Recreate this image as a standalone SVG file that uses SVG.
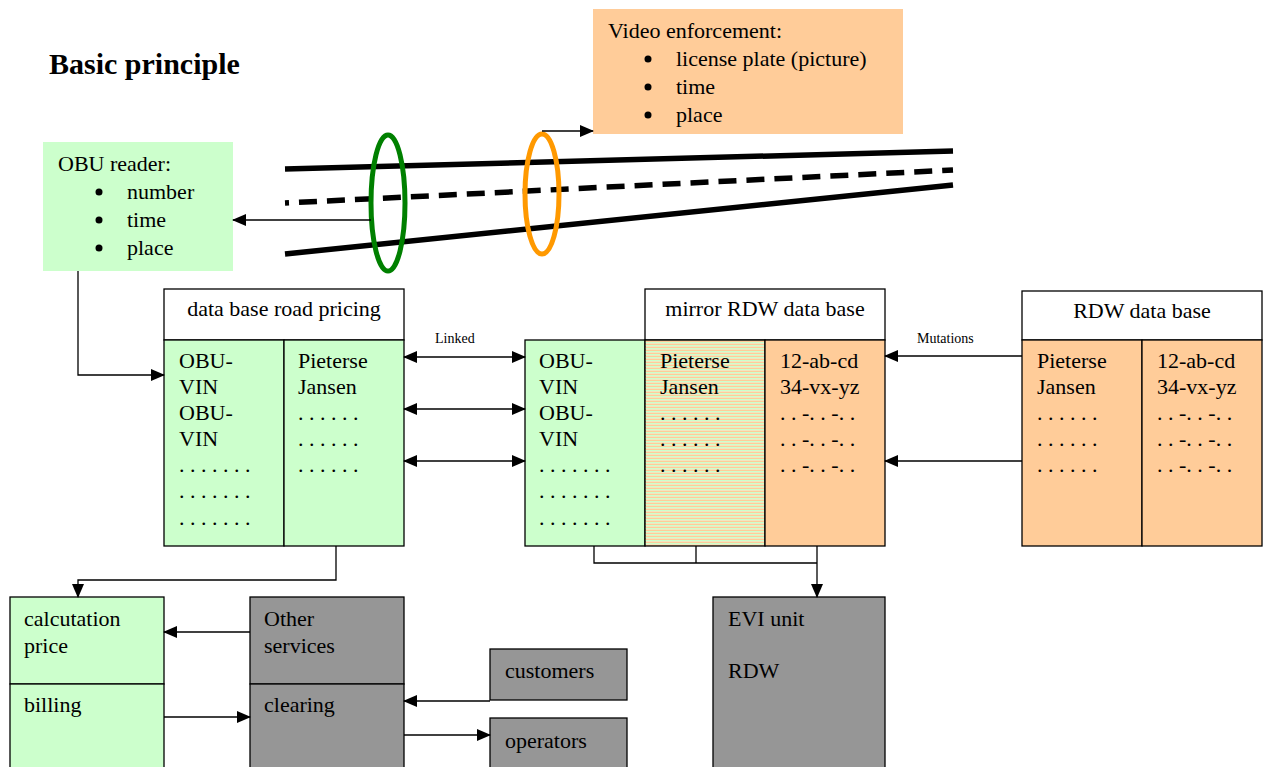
<svg xmlns="http://www.w3.org/2000/svg" width="1265" height="767" viewBox="0 0 1265 767">
<style>
text{font-family:"Liberation Serif","Times New Roman",serif;font-size:22px;fill:#000}
.sm{font-size:14px}
.ttl{font-size:30px;font-weight:bold}
.bx{stroke:#000;stroke-width:1.3}
.g{fill:#ccffcc}
.o{fill:#ffcc99}
.w{fill:#fff}
.gr{fill:#969696}
.ln{stroke:#000;stroke-width:1.3;fill:none}
.road{stroke:#000;stroke-width:5.5;fill:none}
</style>
<defs>
<marker id="ah" markerUnits="userSpaceOnUse" markerWidth="14" markerHeight="12" refX="13" refY="6" orient="auto">
<path d="M0,0 L14,6 L0,12 Z" fill="#000"/>
</marker>
<marker id="as" markerUnits="userSpaceOnUse" markerWidth="14" markerHeight="12" refX="1" refY="6" orient="auto">
<path d="M14,0 L0,6 L14,12 Z" fill="#000"/>
</marker>
<pattern id="stripe" width="4" height="3" patternUnits="userSpaceOnUse">
<rect width="4" height="1.5" fill="#ccffcc"/>
<rect y="1.5" width="4" height="1.5" fill="#ffcc99"/>
</pattern>
</defs>

<text class="ttl" x="49" y="74">Basic principle</text>

<g id="road">
<line class="road" x1="285" y1="169" x2="953" y2="151"/>
<line class="road" x1="285" y1="203" x2="953" y2="170" stroke-dasharray="18 10" stroke-dashoffset="14"/>
<line class="road" x1="285" y1="254" x2="953" y2="185"/>
<ellipse cx="388" cy="203" rx="17" ry="68" fill="none" stroke="#008000" stroke-width="5"/>
<ellipse cx="542" cy="194" rx="17" ry="60" fill="none" stroke="#ff9900" stroke-width="5"/>
</g>

<g id="obu-reader">
<rect class="g" x="43" y="142" width="190" height="129"/>
<text x="58" y="171">OBU reader:</text>
<circle cx="99" cy="192" r="3.5"/><text x="127" y="199">number</text>
<circle cx="99" cy="220" r="3.5"/><text x="127" y="227">time</text>
<circle cx="99" cy="248" r="3.5"/><text x="127" y="255">place</text>
</g>

<g id="video">
<rect class="o" x="593" y="9" width="310" height="125"/>
<text x="608" y="38">Video enforcement:</text>
<circle cx="648" cy="59" r="3.5"/><text x="676" y="66">license plate (picture)</text>
<circle cx="648" cy="87" r="3.5"/><text x="676" y="94">time</text>
<circle cx="648" cy="115" r="3.5"/><text x="676" y="122">place</text>
</g>

<g id="db-road-pricing">
<rect class="bx w" x="164" y="289" width="240" height="51"/>
<text x="284" y="316" text-anchor="middle">data base road pricing</text>
<rect class="bx g" x="164" y="340" width="120" height="206"/>
<rect class="bx g" x="284" y="340" width="120" height="206"/>
<text x="179" y="368">OBU-</text>
<text x="179" y="394">VIN</text>
<text x="179" y="420">OBU-</text>
<text x="179" y="446">VIN</text>
<text x="179" y="472">. . . . . . .</text>
<text x="179" y="498">. . . . . . .</text>
<text x="179" y="525">. . . . . . .</text>
<text x="298" y="368">Pieterse</text>
<text x="298" y="394">Jansen</text>
<text x="298" y="420">. . . . . .</text>
<text x="298" y="446">. . . . . .</text>
<text x="298" y="472">. . . . . .</text>
</g>

<g id="mirror-rdw">
<rect class="bx w" x="645" y="289" width="240" height="51"/>
<text x="765" y="316" text-anchor="middle">mirror RDW data base</text>
<rect class="bx g" x="525" y="340" width="120" height="206"/>
<rect class="bx" x="645" y="340" width="120" height="206" fill="url(#stripe)"/>
<rect class="bx o" x="765" y="340" width="120" height="206"/>
<text x="539" y="368">OBU-</text>
<text x="539" y="394">VIN</text>
<text x="539" y="420">OBU-</text>
<text x="539" y="446">VIN</text>
<text x="539" y="472">. . . . . . .</text>
<text x="539" y="498">. . . . . . .</text>
<text x="539" y="525">. . . . . . .</text>
<text x="660" y="368">Pieterse</text>
<text x="660" y="394">Jansen</text>
<text x="660" y="420">. . . . . .</text>
<text x="660" y="446">. . . . . .</text>
<text x="660" y="472">. . . . . .</text>
<text x="780" y="368">12-ab-cd</text>
<text x="780" y="394">34-vx-yz</text>
<text x="780" y="420">. . -. . -. .</text>
<text x="780" y="446">. . -. . -. .</text>
<text x="780" y="472">. . -. . -. .</text>
</g>

<g id="rdw-db">
<rect class="bx w" x="1022" y="291" width="240" height="49"/>
<text x="1142" y="318" text-anchor="middle">RDW data base</text>
<rect class="bx o" x="1022" y="340" width="120" height="206"/>
<rect class="bx o" x="1142" y="340" width="120" height="206"/>
<text x="1037" y="368">Pieterse</text>
<text x="1037" y="394">Jansen</text>
<text x="1037" y="420">. . . . . .</text>
<text x="1037" y="446">. . . . . .</text>
<text x="1037" y="472">. . . . . .</text>
<text x="1157" y="368">12-ab-cd</text>
<text x="1157" y="394">34-vx-yz</text>
<text x="1157" y="420">. . -. . -. .</text>
<text x="1157" y="446">. . -. . -. .</text>
<text x="1157" y="472">. . -. . -. .</text>
</g>

<g id="calc-billing">
<rect class="bx g" x="10" y="597" width="154" height="87"/>
<rect class="bx g" x="10" y="684" width="154" height="90"/>
<text x="24" y="626">calcutation</text>
<text x="24" y="653">price</text>
<text x="24" y="712">billing</text>
</g>

<g id="services-clearing">
<rect class="bx gr" x="250" y="597" width="154" height="87"/>
<rect class="bx gr" x="250" y="684" width="154" height="90"/>
<text x="264" y="626">Other</text>
<text x="264" y="653">services</text>
<text x="264" y="712">clearing</text>
</g>

<g id="customers">
<rect class="bx gr" x="490" y="649" width="137" height="51"/>
<text x="505" y="678">customers</text>
</g>

<g id="operators">
<rect class="bx gr" x="490" y="718" width="137" height="56"/>
<text x="505" y="748">operators</text>
</g>

<g id="evi">
<rect class="bx gr" x="713" y="597" width="172" height="177"/>
<text x="728" y="626">EVI unit</text>
<text x="728" y="678">RDW</text>
</g>

<g id="connectors">
<line class="ln" x1="371" y1="220" x2="233" y2="220" marker-end="url(#ah)"/>
<line class="ln" x1="542" y1="131" x2="593" y2="131" marker-end="url(#ah)"/>
<polyline class="ln" points="78,271 78,375 164,375" marker-end="url(#ah)"/>
<line class="ln" x1="404" y1="357" x2="525" y2="357" marker-start="url(#as)" marker-end="url(#ah)"/>
<line class="ln" x1="404" y1="409" x2="525" y2="409" marker-start="url(#as)" marker-end="url(#ah)"/>
<line class="ln" x1="404" y1="461" x2="525" y2="461" marker-start="url(#as)" marker-end="url(#ah)"/>
<text class="sm" x="435" y="343">Linked</text>
<line class="ln" x1="1022" y1="356" x2="885" y2="356" marker-end="url(#ah)"/>
<line class="ln" x1="1022" y1="461" x2="885" y2="461" marker-end="url(#ah)"/>
<text class="sm" x="917" y="343">Mutations</text>
<polyline class="ln" points="336,546 336,580 78,580 78,597" marker-end="url(#ah)"/>
<polyline class="ln" points="594,546 594,563 817,563"/>
<line class="ln" x1="696" y1="546" x2="696" y2="563"/>
<line class="ln" x1="817" y1="546" x2="817" y2="597" marker-end="url(#ah)"/>
<line class="ln" x1="250" y1="632" x2="164" y2="632" marker-end="url(#ah)"/>
<line class="ln" x1="164" y1="717" x2="250" y2="717" marker-end="url(#ah)"/>
<line class="ln" x1="490" y1="701" x2="404" y2="701" marker-end="url(#ah)"/>
<line class="ln" x1="404" y1="735" x2="490" y2="735" marker-end="url(#ah)"/>
</g>
</svg>
